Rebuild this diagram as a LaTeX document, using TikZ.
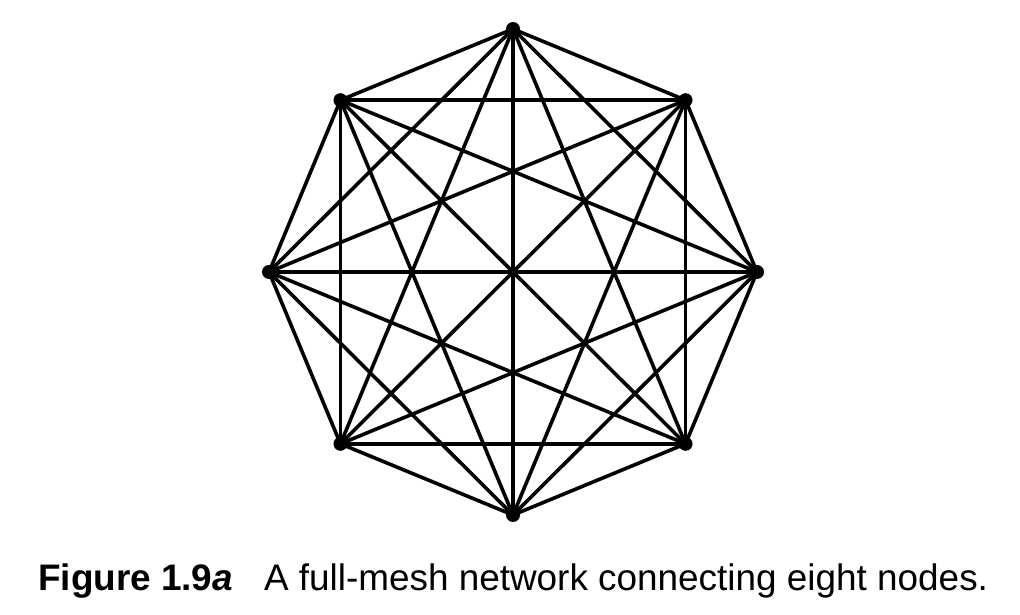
\documentclass[tikz,border=0pt]{standalone}
\usepackage{fontspec}
\setmainfont{Liberation Sans}
\begin{document}
\begin{tikzpicture}[x=1pt,y=1pt,
  vert/.style={circle,fill=black,inner sep=0pt,minimum size=14pt},
  edge/.style={line width=3.6pt,line cap=round},
  captext/.style={anchor=base west,inner sep=0pt,font=\fontsize{36.9}{44}\selectfont}]
\useasboundingbox (0,0) rectangle (1020,615);
\foreach \i in {0,...,7} {
  \node[vert] (n\i) at ({513+244*cos(90-45*\i)},{343+243*sin(90-45*\i)}) {};
}
\foreach \i in {0,...,6} {
  \pgfmathtruncatemacro{\s}{\i+1}
  \foreach \j in {\s,...,7} {
    \draw[edge] (n\i.center) -- (n\j.center);
  }
}
\node[captext] (caption) at (38,24) {\textbf{Figure 1.9\textit{a}}\hspace{31pt}A full-mesh network connecting eight nodes.};
\end{tikzpicture}
\end{document}
